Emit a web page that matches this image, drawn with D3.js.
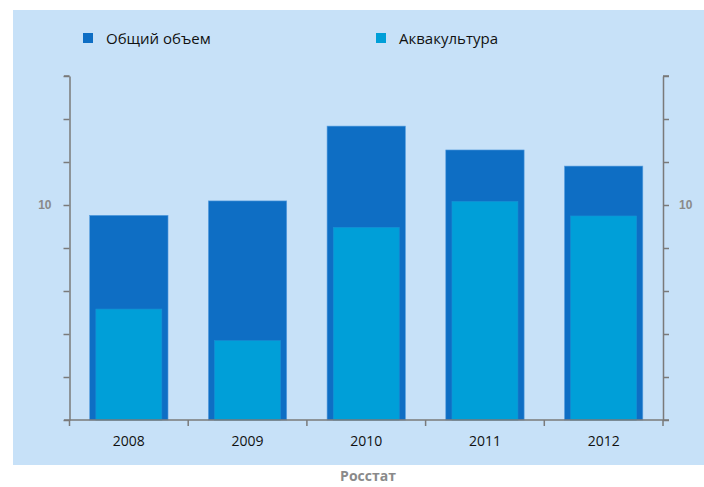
<!DOCTYPE html>
<html><head><meta charset="utf-8">
<script src="https://cdn.jsdelivr.net/npm/d3@7"></script>
<style>body{margin:0;background:#fff}svg{display:block}</style>
</head><body>
<svg id="c" width="704" height="487"></svg>
<script>
const years = ["2008","2009","2010","2011","2012"];
const totalVolume = [9.52, 10.19, 13.67, 12.56, 11.81];
const aquaculture = [5.16, 3.69, 8.96, 10.17, 9.49];
const tickValues = [0,2,4,6,8,10,12,14,16];
const labeledTicks = [10];
const seriesNames = ["Общий объем", "Аквакультура"];
const source = "Росстат";

const colors = {bg:"#c7e1f8", dark:"#0e6ec4", light:"#009fd8", axis:"#7a7a7a"};
const svg = d3.select("#c");
svg.append("rect").attr("x",13).attr("y",10).attr("width",704-13).attr("height",455).attr("fill",colors.bg);

const x = d3.scaleBand().domain(years).range([69.5,663]).padding(0);
const y = d3.scaleLinear().domain([0,16]).range([420,76]);

// bars
const darkW = x.bandwidth()*0.66, lightW = x.bandwidth()*0.556;
svg.selectAll(".dk").data(years).join("rect")
  .attr("x",d=>x(d)+x.bandwidth()/2-darkW/2).attr("width",darkW)
  .attr("y",(d,i)=>y(totalVolume[i])).attr("height",(d,i)=>y(0)-y(totalVolume[i]))
  .attr("fill",colors.dark).attr("stroke","#5a9fe0").attr("stroke-width",0.6);
svg.selectAll(".lt").data(years).join("rect")
  .attr("x",d=>x(d)+x.bandwidth()/2-lightW/2).attr("width",lightW)
  .attr("y",(d,i)=>y(aquaculture[i])).attr("height",(d,i)=>y(0)-y(aquaculture[i]))
  .attr("fill",colors.light).attr("stroke","#1a8fd4").attr("stroke-width",0.6);

const fmt = d => labeledTicks.includes(d) ? String(d) : "";
// left axis
const gl = svg.append("g").attr("transform","translate(69.5,0)")
  .call(d3.axisLeft(y).tickValues(tickValues).tickFormat(fmt).tickSize(6).tickSizeOuter(0));
// right axis
const gr = svg.append("g").attr("transform","translate(663,0)")
  .call(d3.axisRight(y).tickValues(tickValues).tickFormat(fmt).tickSize(6).tickSizeOuter(0));
[gl,gr].forEach(g=>{
  g.select(".domain").attr("stroke",colors.axis).attr("stroke-width",1.5);
  g.selectAll(".tick line").attr("stroke",colors.axis).attr("stroke-width",1.5);
  g.selectAll("text").attr("fill","#8a8a8a").attr("font-family","Liberation Sans, Arial, sans-serif")
   .attr("font-size",12).attr("font-weight","bold");
});
gl.selectAll("text").attr("dx",-9);
gr.selectAll("text").attr("dx",7);
// top brackets
svg.append("line").attr("x1",69.5).attr("x2",64).attr("y1",76).attr("y2",76).attr("stroke",colors.axis).attr("stroke-width",1.5);
svg.append("line").attr("x1",663).attr("x2",669).attr("y1",76).attr("y2",76).attr("stroke",colors.axis).attr("stroke-width",1.5);

// bottom axis
const gb = svg.append("g").attr("transform","translate(0,420)")
  .call(d3.axisBottom(x).tickSize(0).tickPadding(16));
gb.select(".domain").remove();
svg.append("line").attr("x1",64).attr("x2",669).attr("y1",420).attr("y2",420).attr("stroke",colors.axis).attr("stroke-width",1.5);
const bounds = years.map(d=>x(d)).concat([x.range()[1]]);
svg.selectAll(".bt").data(bounds).join("line").attr("x1",d=>d).attr("x2",d=>d)
  .attr("y1",420).attr("y2",426).attr("stroke",colors.axis).attr("stroke-width",1.5);
gb.selectAll("text").attr("fill","#111").attr("font-family","Open Sans, Liberation Sans, sans-serif").attr("font-size",14);

// legend
const legX = [83, 376];
const lg = svg.selectAll(".lg").data(seriesNames).join("g").attr("transform",(d,i)=>`translate(${legX[i]},33)`);
lg.append("rect").attr("width",10).attr("height",10).attr("fill",(d,i)=>i?colors.light:colors.dark);
lg.append("text").attr("x",23).attr("y",10.5).text(d=>d).attr("fill","#111")
  .attr("font-family","Open Sans, Liberation Sans, sans-serif").attr("font-size",15);

svg.append("text").attr("x",368).attr("y",481).attr("text-anchor","middle").text(source)
  .attr("fill","#8a8a8a").attr("font-family","Open Sans, Liberation Sans, sans-serif")
  .attr("font-size",14).attr("font-weight","bold");
</script>
</body></html>
